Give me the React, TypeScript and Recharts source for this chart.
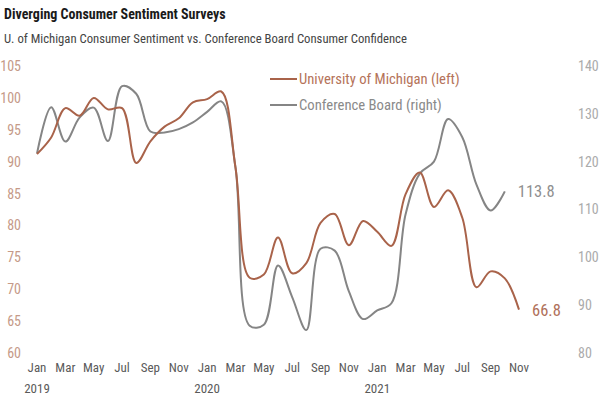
import React from 'react';
import { LineChart, Line, XAxis, YAxis, Legend } from 'recharts';

const months = [
  'Jan', 'Feb', 'Mar', 'Apr', 'May', 'Jun', 'Jul', 'Aug', 'Sep', 'Oct', 'Nov', 'Dec',
  'Jan', 'Feb', 'Mar', 'Apr', 'May', 'Jun', 'Jul', 'Aug', 'Sep', 'Oct', 'Nov', 'Dec',
  'Jan', 'Feb', 'Mar', 'Apr', 'May', 'Jun', 'Jul', 'Aug', 'Sep', 'Oct', 'Nov',
];
const years = ['2019', '2020', '2021'];

const michigan = [
  91.2, 93.8, 98.4, 97.2, 100.0, 98.2, 98.4, 89.8, 93.2, 95.5, 96.8, 99.3,
  99.8, 101.0, 89.1, 71.8, 72.3, 78.1, 72.5, 74.1, 80.4, 81.8, 76.9, 80.7,
  79.0, 76.8, 84.9, 88.3, 82.9, 85.5, 81.2, 70.3, 72.8, 71.7, 66.8,
];
const conference = [
  121.7, 131.4, 124.2, 129.2, 131.3, 124.3, 135.8, 134.2, 126.3, 126.1, 126.8, 128.2,
  130.4, 132.6, 118.8, 85.7, 85.9, 98.3, 91.7, 84.8, 101.8, 101.4, 92.9, 87.1,
  88.9, 90.4, 109.0, 117.5, 120.0, 128.9, 125.1, 115.2, 109.8, 113.8,
];

const leftTicks = [60, 65, 70, 75, 80, 85, 90, 95, 100, 105];
const rightTicks = [80, 90, 100, 110, 120, 130, 140];

const FONT = '"Liberation Sans Narrow", "Roboto Condensed", "DejaVu Sans Condensed", "Liberation Sans", sans-serif';
const MICH = '#a9634a';
const CONF = '#858585';

const data = months.map((m, i) => ({
  idx: i,
  month: m,
  michigan: michigan[i],
  conference: i < conference.length ? conference[i] : null,
}));

// centripetal catmull-rom, keeps overshoot low next to big jumps
const smoothCurve = (context: any) => {
  let pts: number[][] = [];
  const dist = (a: number[], b: number[]) => Math.hypot(a[0] - b[0], a[1] - b[1]);
  return {
    areaStart() {},
    areaEnd() {},
    lineStart() {
      pts = [];
    },
    point(x: number, y: number) {
      pts.push([+x, +y]);
    },
    lineEnd() {
      if (!pts.length) return;
      context.moveTo(pts[0][0], pts[0][1]);
      for (let i = 0; i < pts.length - 1; i++) {
        const p1 = pts[i];
        const p2 = pts[i + 1];
        const p0 = i > 0 ? pts[i - 1] : null;
        const p3 = i + 2 < pts.length ? pts[i + 2] : null;
        const l12_2 = dist(p1, p2);
        const l12 = Math.sqrt(l12_2);
        let c1 = [p1[0], p1[1]];
        let c2 = [p2[0], p2[1]];
        if (p0) {
          const l01_2 = dist(p0, p1);
          const l01 = Math.sqrt(l01_2);
          if (l01 > 1e-6) {
            const a = 2 * l01_2 + 3 * l01 * l12 + l12_2;
            const n = 3 * l01 * (l01 + l12);
            c1 = [
              (p1[0] * a - p0[0] * l12_2 + p2[0] * l01_2) / n,
              (p1[1] * a - p0[1] * l12_2 + p2[1] * l01_2) / n,
            ];
          }
        }
        if (p3) {
          const l23_2 = dist(p2, p3);
          const l23 = Math.sqrt(l23_2);
          if (l23 > 1e-6) {
            const b = 2 * l23_2 + 3 * l23 * l12 + l12_2;
            const m = 3 * l23 * (l23 + l12);
            c2 = [
              (p2[0] * b + p1[0] * l23_2 - p3[0] * l12_2) / m,
              (p2[1] * b + p1[1] * l23_2 - p3[1] * l12_2) / m,
            ];
          }
        }
        context.bezierCurveTo(c1[0], c1[1], c2[0], c2[1], p2[0], p2[1]);
      }
    },
  };
};

const MonthTick = (props: any) => {
  const { x, y, payload } = props;
  const i = payload.value as number;
  const label = months[i];
  const year = label === 'Jan' ? years[Math.floor(i / 12)] : null;
  return (
    <g>
      <text x={x} y={y + 11} textAnchor="middle" fill="#5a5a5a" fontSize={13} fontFamily={FONT}>
        {label}
      </text>
      {year && (
        <text x={x} y={y + 32} textAnchor="middle" fill="#5a5a5a" fontSize={13} fontFamily={FONT}>
          {year}
        </text>
      )}
    </g>
  );
};

const endLabel = (last: number, color: string, fmt: (v: number) => string) => (props: any) => {
  const { x, y, index, value } = props;
  if (index !== last) return null;
  return (
    <text key="end" x={x + 13} y={y + 6} fill={color} fontSize={16.5} fontFamily={FONT}>
      {fmt(value)}
    </text>
  );
};

const LegendBox = () => (
  <div style={{ fontFamily: FONT, fontSize: 14.7, lineHeight: '26px' }}>
    {[
      { name: 'University of Michigan (left)', color: MICH, text: '#b5735a' },
      { name: 'Conference Board (right)', color: CONF, text: '#8a8a8a' },
    ].map((it) => (
      <div key={it.name} style={{ display: 'flex', alignItems: 'center' }}>
        <span style={{ display: 'inline-block', width: 27, height: 2, background: it.color }} />
        <span style={{ color: it.text, marginLeft: 2 }}>{it.name}</span>
      </div>
    ))}
  </div>
);

export default function App() {
  return (
    <div style={{ position: 'absolute', left: 0, top: 0, width: 599, height: 399, background: '#fff', fontFamily: FONT }}>
      <div style={{ position: 'absolute', left: 4, top: 6, fontSize: 14, fontWeight: 'bold', color: '#1a1a1a' }}>
        Diverging Consumer Sentiment Surveys
      </div>
      <div style={{ position: 'absolute', left: 4, top: 31, fontSize: 12.7, color: '#444' }}>
        U. of Michigan Consumer Sentiment vs. Conference Board Consumer Confidence
      </div>
      <LineChart width={599} height={399} data={data} margin={{ top: 66, right: 0, bottom: 0, left: 0 }}>
        <XAxis
          dataKey="idx"
          type="category"
          ticks={data.filter((d) => d.idx % 2 === 0).map((d) => d.idx)}
          interval={0}
          axisLine={false}
          tickLine={false}
          height={46}
          tick={<MonthTick />}
        />
        <YAxis
          yAxisId="left"
          domain={[60, 105]}
          ticks={leftTicks}
          axisLine={false}
          tickLine={false}
          width={37}
          tickMargin={10}
          tick={{ fill: '#c59a88', fontSize: 14, fontFamily: FONT }}
        />
        <YAxis
          yAxisId="right"
          orientation="right"
          domain={[80, 140]}
          ticks={rightTicks}
          axisLine={false}
          tickLine={false}
          width={80}
          tickMargin={53}
          tick={{ fill: '#ababab', fontSize: 14, fontFamily: FONT }}
        />
        <Legend
          layout="vertical"
          align="center"
          verticalAlign="middle"
          content={<LegendBox />}
          wrapperStyle={{ position: 'absolute', left: 270, top: 66, width: 200 }}
        />
        <Line
          yAxisId="right"
          dataKey="conference"
          type={smoothCurve as any}
          stroke={CONF}
          strokeWidth={2}
          dot={false}
          isAnimationActive={false}
          label={endLabel(conference.length - 1, '#8f8f8f', (v) => v.toFixed(1))}
        />
        <Line
          yAxisId="left"
          dataKey="michigan"
          type={smoothCurve as any}
          stroke={MICH}
          strokeWidth={2}
          dot={false}
          isAnimationActive={false}
          label={endLabel(michigan.length - 1, '#b0705a', (v) => v.toFixed(1))}
        />
      </LineChart>
    </div>
  );
}
